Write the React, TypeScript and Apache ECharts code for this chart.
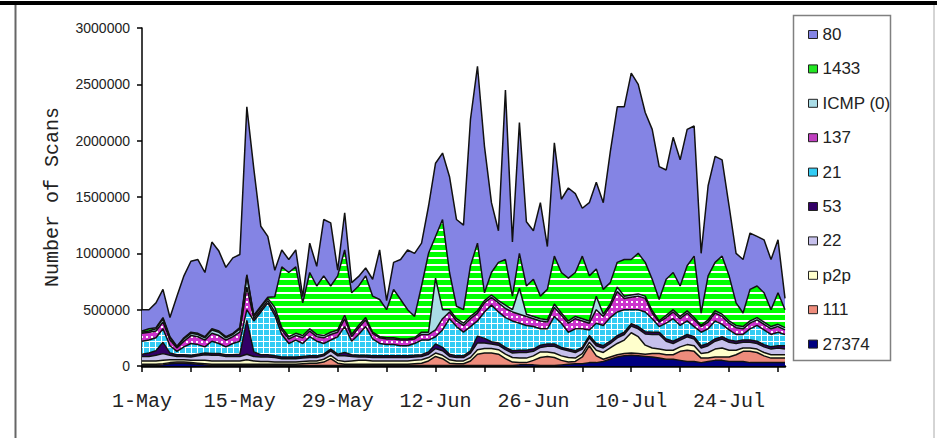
import React, { useEffect, useRef } from 'react';
import * as echarts from 'echarts';

// Dates 1-May .. 1-Aug (daily)
const monthDays: [string, number][] = [['May', 31], ['Jun', 30], ['Jul', 31], ['Aug', 1]];
const categories: string[] = [];
for (const [m, n] of monthDays) for (let i = 1; i <= n; i++) categories.push(`${i}-${m}`);

const yMax = 3000000;
const yStep = 500000;

const s27374 = [
  5000, 5000, 5000, 10000, 20000, 25000, 25000, 20000, 15000, 10000,
  5000, 5000, 5000, 5000, 5000, 5000, 5000, 5000, 5000, 5000,
  5000, 5000, 5000, 5000, 5000, 5000, 5000, 5000, 5000, 5000,
  5000, 5000, 5000, 5000, 5000, 5000, 5000, 5000, 5000, 5000,
  5000, 5000, 5000, 5000, 5000, 5000, 5000, 5000, 5000, 5000,
  5000, 5000, 5000, 5000, 10000, 10000, 10000, 5000, 5000, 5000,
  10000, 15000, 20000, 20000, 30000, 30000, 40000, 60000, 80000, 90000,
  95000, 90000, 85000, 80000, 70000, 60000, 60000, 50000, 40000, 40000,
  30000, 40000, 50000, 50000, 40000, 40000, 40000, 30000, 30000, 30000,
  30000, 30000, 30000,
];
const s111 = [
  10000, 10000, 10000, 10000, 10000, 10000, 10000, 10000, 10000, 10000,
  10000, 10000, 10000, 10000, 10000, 10000, 10000, 10000, 10000, 10000,
  10000, 10000, 10000, 15000, 20000, 20000, 30000, 60000, 20000, 10000,
  10000, 10000, 10000, 10000, 10000, 10000, 10000, 10000, 10000, 15000,
  20000, 40000, 80000, 60000, 20000, 15000, 15000, 40000, 100000, 110000,
  110000, 100000, 60000, 30000, 20000, 20000, 40000, 70000, 80000, 70000,
  40000, 20000, 20000, 60000, 150000, 60000, 20000, 20000, 20000, 20000,
  20000, 20000, 20000, 30000, 40000, 40000, 40000, 80000, 100000, 90000,
  40000, 30000, 30000, 30000, 40000, 60000, 90000, 100000, 90000, 60000,
  40000, 40000, 40000,
];
const sP2p = [
  30000, 30000, 30000, 30000, 25000, 20000, 20000, 20000, 25000, 30000,
  30000, 30000, 30000, 30000, 30000, 40000, 30000, 25000, 25000, 20000,
  20000, 20000, 20000, 20000, 20000, 20000, 25000, 30000, 25000, 25000,
  30000, 35000, 35000, 30000, 30000, 30000, 30000, 30000, 30000, 30000,
  30000, 30000, 30000, 30000, 30000, 25000, 25000, 30000, 40000, 40000,
  40000, 40000, 40000, 40000, 40000, 40000, 40000, 50000, 40000, 40000,
  40000, 40000, 30000, 30000, 30000, 50000, 60000, 80000, 100000, 120000,
  180000, 150000, 80000, 50000, 40000, 40000, 40000, 40000, 50000, 50000,
  40000, 50000, 70000, 80000, 60000, 40000, 30000, 30000, 30000, 30000,
  30000, 30000, 30000,
];
const s22 = [
  40000, 40000, 50000, 60000, 40000, 30000, 30000, 30000, 40000, 50000,
  50000, 50000, 40000, 40000, 40000, 50000, 40000, 40000, 40000, 40000,
  30000, 30000, 30000, 30000, 30000, 30000, 30000, 40000, 40000, 50000,
  40000, 30000, 30000, 30000, 30000, 30000, 30000, 30000, 30000, 30000,
  30000, 30000, 40000, 40000, 30000, 30000, 30000, 40000, 60000, 50000,
  40000, 40000, 40000, 40000, 50000, 50000, 40000, 40000, 50000, 60000,
  60000, 60000, 50000, 40000, 40000, 40000, 40000, 40000, 50000, 50000,
  60000, 70000, 100000, 120000, 130000, 80000, 60000, 60000, 70000, 60000,
  50000, 60000, 70000, 80000, 70000, 60000, 50000, 50000, 50000, 50000,
  50000, 60000, 50000,
];
const s53 = [
  20000, 30000, 40000, 100000, 20000, 15000, 15000, 15000, 15000, 15000,
  15000, 15000, 15000, 15000, 20000, 300000, 40000, 20000, 20000, 15000,
  15000, 15000, 15000, 15000, 15000, 15000, 15000, 15000, 15000, 30000,
  15000, 15000, 15000, 15000, 15000, 15000, 15000, 15000, 15000, 15000,
  15000, 20000, 40000, 30000, 20000, 15000, 15000, 20000, 60000, 40000,
  20000, 20000, 20000, 20000, 20000, 20000, 20000, 20000, 20000, 20000,
  15000, 15000, 15000, 15000, 20000, 20000, 20000, 20000, 20000, 20000,
  20000, 20000, 20000, 20000, 20000, 20000, 20000, 20000, 20000, 20000,
  20000, 20000, 20000, 20000, 20000, 20000, 20000, 20000, 20000, 20000,
  20000, 20000, 30000,
];
const s21 = [
  115000, 115000, 115000, 120000, 65000, 30000, 70000, 105000, 85000, 55000,
  110000, 90000, 70000, 100000, 115000, 95000, 275000, 380000, 460000, 360000,
  200000, 120000, 150000, 115000, 170000, 130000, 95000, 80000, 155000, 230000,
  120000, 185000, 255000, 150000, 110000, 100000, 100000, 90000, 90000, 105000,
  130000, 105000, 65000, 155000, 315000, 260000, 210000, 215000, 135000, 235000,
  325000, 275000, 265000, 265000, 240000, 220000, 200000, 145000, 135000, 245000,
  215000, 150000, 195000, 165000, 50000, 180000, 180000, 210000, 210000, 200000,
  125000, 150000, 175000, 120000, 50000, 140000, 200000, 110000, 120000, 90000,
  120000, 130000, 160000, 110000, 90000, 60000, 50000, 100000, 140000, 130000,
  110000, 120000, 100000,
];
const s137 = [
  70000, 70000, 60000, 60000, 50000, 30000, 50000, 70000, 70000, 60000,
  70000, 70000, 60000, 60000, 80000, 200000, 20000, 20000, 20000, 30000,
  40000, 40000, 40000, 50000, 50000, 40000, 50000, 50000, 40000, 70000,
  40000, 60000, 60000, 50000, 50000, 50000, 50000, 50000, 50000, 40000,
  50000, 50000, 60000, 100000, 60000, 50000, 60000, 70000, 70000, 80000,
  70000, 80000, 80000, 80000, 80000, 80000, 70000, 70000, 60000, 80000,
  70000, 80000, 90000, 70000, 60000, 120000, 80000, 100000, 180000, 100000,
  110000, 120000, 120000, 50000, 40000, 50000, 60000, 60000, 70000, 60000,
  50000, 60000, 70000, 70000, 60000, 60000, 50000, 50000, 50000, 50000,
  50000, 50000, 40000,
];
const sIcmp = [
  10000, 10000, 20000, 30000, 20000, 10000, 20000, 20000, 20000, 20000,
  30000, 30000, 20000, 20000, 30000, 100000, 20000, 20000, 20000, 40000,
  20000, 20000, 20000, 20000, 20000, 20000, 20000, 20000, 20000, 30000,
  20000, 20000, 20000, 10000, 10000, 10000, 10000, 10000, 10000, 10000,
  20000, 20000, 460000, 80000, 20000, 20000, 20000, 20000, 20000, 20000,
  20000, 20000, 30000, 20000, 230000, 20000, 20000, 20000, 20000, 30000,
  20000, 20000, 20000, 20000, 20000, 120000, 20000, 20000, 40000, 20000,
  20000, 20000, 20000, 20000, 10000, 20000, 20000, 20000, 20000, 20000,
  10000, 20000, 20000, 20000, 20000, 20000, 20000, 20000, 20000, 20000,
  20000, 20000, 20000,
];
const s1433 = [
  10000, 20000, 10000, 10000, 10000, 5000, 10000, 10000, 10000, 10000,
  10000, 10000, 10000, 10000, 10000, 10000, 10000, 10000, 10000, 95000,
  540000, 570000, 590000, 290000, 500000, 430000, 530000, 410000, 480000, 580000,
  370000, 350000, 370000, 320000, 330000, 250000, 430000, 350000, 260000, 190000,
  410000, 700000, 370000, 800000, 330000, 110000, 120000, 450000, 600000, 70000,
  200000, 340000, 405000, 120000, 310000, 250000, 330000, 200000, 270000, 425000,
  360000, 380000, 390000, 555000, 400000, 240000, 220000, 190000, 220000, 325000,
  315000, 360000, 300000, 280000, 190000, 320000, 330000, 270000, 400000, 545000,
  110000, 390000, 430000, 515000, 400000, 200000, 120000, 280000, 280000, 260000,
  150000, 280000, 160000,
];
const s80 = [
  190000, 170000, 220000, 250000, 170000, 445000, 550000, 630000, 655000, 570000,
  770000, 710000, 615000, 670000, 650000, 1490000, 1300000, 710000, 540000, 235000,
  150000, 115000, 150000, 55000, 260000, 175000, 500000, 560000, 50000, 330000,
  90000, 85000, 70000, 150000, 440000, 80000, 240000, 355000, 530000, 560000,
  380000, 420000, 650000, 590000, 850000, 770000, 750000, 1300000, 1570000, 1300000,
  620000, 280000, 1505000, 480000, 1160000, 570000, 430000, 830000, 380000, 1005000,
  650000, 800000, 700000, 425000, 650000, 770000, 770000, 1160000, 1380000, 1355000,
  1655000, 1500000, 1330000, 1330000, 1180000, 970000, 1200000, 1120000, 1210000, 1155000,
  530000, 800000, 940000, 855000, 620000, 440000, 475000, 500000, 440000, 470000,
  445000, 470000, 100000,
];

// stacking order, bottom first
const stackNames = ['27374', '111', 'p2p', '22', '53', '21', '137', 'ICMP (0)', '1433', '80'];
const stackData = [s27374, s111, sP2p, s22, s53, s21, s137, sIcmp, s1433, s80];
const legendOrder = ['80', '1433', 'ICMP (0)', '137', '21', '53', '22', 'p2p', '111', '27374'];

const baseColors: Record<string, string> = {
  '80': '#8484E4',
  '1433': '#22E622',
  'ICMP (0)': '#A9DCE6',
  '137': '#C040C0',
  '21': '#33CCF4',
  '53': '#330066',
  '22': '#C6C0EC',
  'p2p': '#FFFFCC',
  '111': '#EE8C7C',
  '27374': '#000080',
};

function makePattern(w: number, h: number, draw: (ctx: CanvasRenderingContext2D) => void) {
  const c = document.createElement('canvas');
  c.width = w;
  c.height = h;
  const ctx = c.getContext('2d') as CanvasRenderingContext2D;
  draw(ctx);
  return { image: c.toDataURL(), repeat: 'repeat', imageWidth: w, imageHeight: h } as any;
}

export default function App() {
  const ref = useRef<HTMLDivElement>(null);
  useEffect(() => {
    if (!ref.current) return;
    const chart = echarts.init(ref.current, null, { renderer: 'svg' });

    const fills: Record<string, any> = {
      '1433': makePattern(4, 7, (ctx) => {
        ctx.fillStyle = '#00FF00';
        ctx.fillRect(0, 0, 4, 7);
        ctx.fillStyle = '#FFFFFF';
        ctx.fillRect(0, 5, 4, 2);
      }),
      '21': makePattern(6, 6, (ctx) => {
        ctx.fillStyle = '#33CCF4';
        ctx.fillRect(0, 0, 6, 6);
        ctx.fillStyle = '#FFFFFF';
        ctx.fillRect(5, 0, 1, 6);
        ctx.fillRect(0, 5, 6, 1);
      }),
      '137': makePattern(5, 5, (ctx) => {
        ctx.fillStyle = '#CC33CC';
        ctx.fillRect(0, 0, 5, 5);
        ctx.fillStyle = '#FFFFFF';
        ctx.fillRect(1, 1, 2, 2);
      }),
    };

    const series = stackNames.map((name, i) => ({
      name,
      type: 'line',
      stack: 'total',
      data: stackData[i],
      symbol: 'none',
      showSymbol: false,
      silent: true,
      lineStyle: { color: '#111', width: 1.5 },
      itemStyle: { color: baseColors[name] },
      areaStyle: { color: fills[name] || baseColors[name], opacity: 1 },
      emphasis: { disabled: true },
    }));

    const font = 'Liberation Sans, Arial, sans-serif';
    const mono = 'Liberation Mono, DejaVu Sans Mono, monospace';

    chart.setOption({
      animation: false,
      backgroundColor: '#ffffff',
      grid: { left: 142, right: 152, top: 28, bottom: 72, containLabel: false },
      legend: {
        orient: 'vertical',
        left: 803,
        top: 21,
        icon: 'rect',
        itemWidth: 9,
        itemHeight: 8,
        itemGap: 17.4,
        selectedMode: false,
        itemStyle: { borderColor: '#222', borderWidth: 1 },
        textStyle: { fontFamily: font, fontSize: 17, color: '#222' },
        data: legendOrder.map((name) => ({ name, itemStyle: { color: baseColors[name] } })),
      },
      xAxis: {
        type: 'category',
        data: categories,
        boundaryGap: false,
        axisLine: { show: true, lineStyle: { color: '#000', width: 2.5 } },
        axisTick: {
          show: true,
          interval: (i: number) => i % 7 === 0,
          length: 6,
          lineStyle: { color: '#000', width: 1.5 },
        },
        axisLabel: {
          interval: (i: number) => i % 14 === 0,
          margin: 25,
          fontFamily: mono,
          fontSize: 20,
          color: '#222',
        },
        splitLine: { show: false },
      },
      yAxis: {
        type: 'value',
        min: 0,
        max: yMax,
        interval: yStep,
        axisLine: { show: true, lineStyle: { color: '#000', width: 1.5 } },
        axisTick: { show: true, length: 5, lineStyle: { color: '#000', width: 1.5 } },
        axisLabel: {
          margin: 12,
          formatter: (v: number) => String(v),
          fontFamily: font,
          fontSize: 14,
          color: '#222',
        },
        splitLine: { show: false },
      },
      graphic: [
        { type: 'line', silent: true, shape: { x1: 0, y1: 3, x2: 937, y2: 3 }, style: { stroke: '#000', lineWidth: 4 } },
        { type: 'line', silent: true, shape: { x1: 15.5, y1: 5, x2: 15.5, y2: 438 }, style: { stroke: '#666', lineWidth: 2 } },
        { type: 'line', silent: true, shape: { x1: 934, y1: 5, x2: 934, y2: 438 }, style: { stroke: '#aaa', lineWidth: 1 } },
        {
          type: 'rect', silent: true, z: -1,
          shape: { x: 793.5, y: 15.5, width: 97, height: 345 },
          style: { fill: '#fff', stroke: '#808080', lineWidth: 1.5 },
        },
        {
          type: 'text', silent: true, x: 52, y: 197, rotation: Math.PI / 2,
          style: {
            text: 'Number of Scans', fontFamily: mono, fontSize: 20, fill: '#222',
            textAlign: 'center', textVerticalAlign: 'middle',
          },
        },
      ],
      series,
    });
    return () => chart.dispose();
  }, []);
  return (
    <div
      ref={ref}
      style={{ position: 'absolute', left: 0, top: 0, width: 937, height: 438, background: '#fff' }}
    />
  );
}
